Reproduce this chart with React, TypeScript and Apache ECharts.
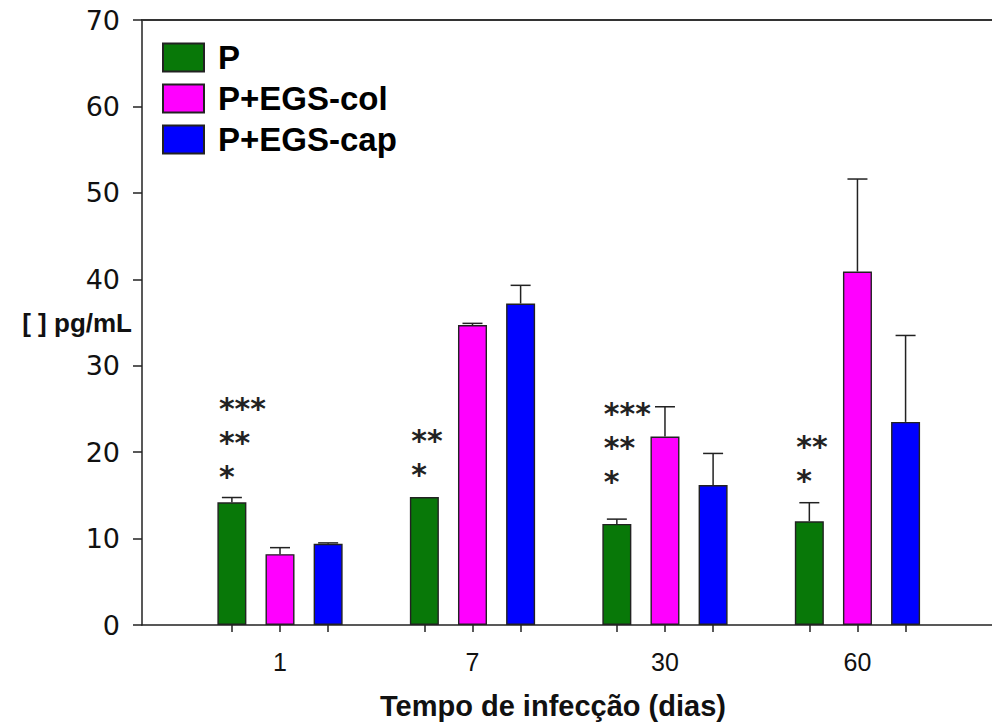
import React, { useEffect, useRef } from "react";
import * as echarts from "echarts";

const days = ["1", "7", "30", "60"];
const seriesNames = ["P", "P+EGS-col", "P+EGS-cap"];
const seriesColors = ["#087808", "#ff00ff", "#0000ff"];
const pMeans = [14.2, 14.8, 11.7, 12.0];
const pErr = [0.55, 0, 0.55, 2.15];
const colMeans = [8.2, 34.7, 21.8, 40.9];
const colErr = [0.75, 0.2, 3.45, 10.7];
const capMeans = [9.4, 37.2, 16.2, 23.5];
const capErr = [0.1, 2.1, 3.65, 10.0];
const sigMarks = ["***\n**\n*", "**\n*", "***\n**\n*", "**\n*"];
const sigLevel = [17.9, 18.1, 17.35, 17.45];
const groupOffsets = [-0.25, 0, 0.25];

const FONT = '"Liberation Sans", Arial, sans-serif';

export default function App() {
  const ref = useRef<HTMLDivElement>(null);
  useEffect(() => {
    if (!ref.current) return;
    const chart = echarts.init(ref.current, null, { renderer: "svg" });
    const means = [pMeans, colMeans, capMeans];
    const errs = [pErr, colErr, capErr];
    const barPositions: number[] = [];
    days.forEach((_, i) => groupOffsets.forEach((o) => barPositions.push(i + o)));

    const barSeries = seriesNames.map((name, s) => ({
      name,
      type: "bar",
      barWidth: 29,
      barGap: "-100%",
      itemStyle: { color: seriesColors[s], borderColor: "#222", borderWidth: 1.4 },
      data: means[s].map((v, i) => [i + groupOffsets[s], v]),
      z: 2,
    }));

    const errData: number[][] = [];
    seriesNames.forEach((_, s) =>
      means[s].forEach((v, i) => {
        if (errs[s][i] > 0) errData.push([i + groupOffsets[s], v, errs[s][i]]);
      })
    );

    const lineStyle = { stroke: "#222", lineWidth: 1.5 };

    const option: any = {
      animation: false,
      grid: { left: 142, right: 0, top: 20, bottom: 100, containLabel: false, outerBoundsMode: "none" },
      title: {
        text: "Tempo de infecção (dias)",
        left: 380,
        top: 691,
        padding: 0,
        textStyle: { fontSize: 29, fontWeight: "bold", fontFamily: FONT, color: "#111" },
      },
      legend: {
        orient: "vertical",
        left: 157,
        top: 36,
        itemWidth: 41,
        itemHeight: 28,
        itemGap: 8,
        icon: "rect",
        selectedMode: false,
        data: seriesNames,
        textStyle: {
          fontSize: 33,
          fontWeight: "bold",
          fontFamily: FONT,
          color: "#000",
          lineHeight: 28,
          padding: [0, 0, 0, 9],
        },
      },
      xAxis: [
        {
          type: "value",
          min: -0.717,
          max: 3.699,
          position: "bottom",
          axisLine: { show: true, onZero: false, lineStyle: { color: "#222", width: 1.5 } },
          axisTick: { show: true, length: 7, customValues: barPositions, lineStyle: { color: "#222", width: 1.5 } },
          axisLabel: {
            customValues: [0, 1, 2, 3],
            formatter: (v: number) => days[Math.round(v)],
            fontSize: 25,
            fontFamily: FONT,
            color: "#111",
            margin: 24,
          },
          splitLine: { show: false },
        },
        {
          type: "value",
          min: -0.717,
          max: 3.699,
          position: "top",
          axisLine: { show: true, onZero: false, lineStyle: { color: "#333", width: 2 } },
          axisTick: { show: false },
          axisLabel: { show: false },
          splitLine: { show: false },
        },
      ],
      yAxis: {
        type: "value",
        min: 0,
        max: 70,
        interval: 10,
        axisLine: { show: true, onZero: false, lineStyle: { color: "#222", width: 1.5 } },
        axisTick: { show: true, length: 9, lineStyle: { color: "#222", width: 1.5 } },
        axisLabel: { fontSize: 27, fontFamily: '"DejaVu Sans", sans-serif', color: "#111", margin: 22 },
        splitLine: { show: false },
        name: "[ ] pg/mL",
        nameLocation: "middle",
        nameRotate: 0,
        nameGap: 10,
        nameMoveOverlap: false,
        nameTextStyle: {
          fontSize: 26,
          fontWeight: "bold",
          fontFamily: FONT,
          color: "#111",
          align: "right",
          verticalAlign: "middle",
          padding: [10, 0, 0, 0],
        },
      },
      series: [
        ...barSeries,
        {
          type: "custom",
          name: "errors",
          z: 3,
          clip: false,
          data: errData,
          renderItem: (params: any, api: any) => {
            const x = api.value(0);
            const y = api.value(1);
            const e = api.value(2);
            const p0 = api.coord([x, y]);
            const p1 = api.coord([x, y + e]);
            return {
              type: "group",
              children: [
                { type: "line", shape: { x1: p0[0], y1: p0[1], x2: p1[0], y2: p1[1] }, style: lineStyle },
                { type: "line", shape: { x1: p1[0] - 10, y1: p1[1], x2: p1[0] + 10, y2: p1[1] }, style: lineStyle },
              ],
            };
          },
        },
        {
          type: "custom",
          name: "significance",
          z: 4,
          clip: false,
          data: days.map((_, i) => [i + groupOffsets[0], sigLevel[i], i]),
          renderItem: (params: any, api: any) => {
            const x = api.value(0);
            const y = api.value(1);
            const idx = api.value(2);
            const p = api.coord([x, y]);
            return {
              type: "text",
              x: p[0] - 13,
              y: p[1] + 23,
              style: {
                text: sigMarks[idx],
                fontSize: 30,
                fontWeight: "bold",
                fontFamily: '"DejaVu Sans", sans-serif',
                fill: "#222",
                lineHeight: 34,
                align: "left",
                verticalAlign: "bottom",
              },
            };
          },
        },
      ],
    };
    chart.setOption(option);
    return () => chart.dispose();
  }, []);
  return (
    <div
      ref={ref}
      style={{ position: "fixed", left: 0, top: 0, width: 992, height: 725, background: "#fff" }}
    />
  );
}
